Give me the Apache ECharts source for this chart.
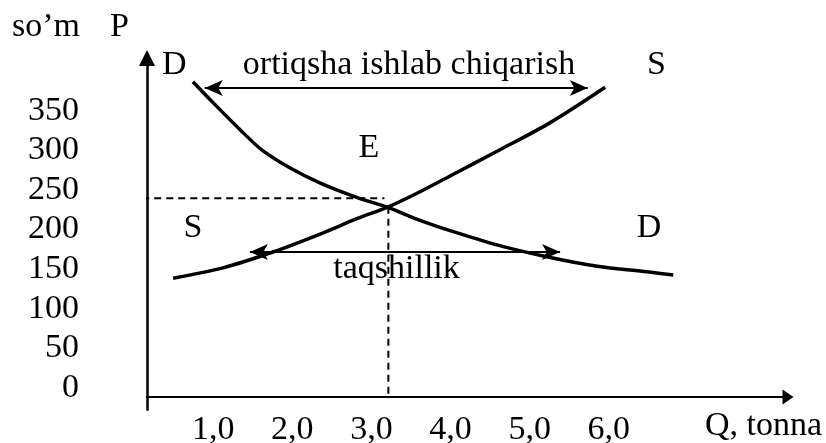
<!DOCTYPE html>
<html><head><meta charset="utf-8">
<script src="https://cdn.jsdelivr.net/npm/echarts@6/dist/echarts.min.js"></script>
<style>html,body{margin:0;padding:0;background:#fff}#c{width:826px;height:443px}</style>
</head><body><div id="c"></div>
<script>
// ---- data (Q in tonnes, P in so'm) ----
const qTicks = [1, 2, 3, 4, 5, 6];
const pTicks = [0, 50, 100, 150, 200, 250, 300, 350];
const demand = [[0.58,398],[0.86,369],[1.18,337],[1.45,312],[1.81,289],[2.19,270],[2.65,252],[3.05,239],[3.45,223],[3.83,210],[4.42,192],[5.05,177],[5.69,165],[6.32,158],[6.65,154]];
const supply = [[0.33,150],[0.96,163],[1.59,183],[2.22,207],[2.65,225],[3.05,240],[3.45,259],[3.83,279],[4.46,312],[5.09,346],[5.79,391]];
const guideP = [[-0.06,251],[3.0,251]];
const guideQ = [[3.05,240],[3.05,0]];
const surplus = [[0.73,390],[5.57,390]];
const shortage = [[1.30,183],[5.22,183]];

const FONT = '"Liberation Serif","Times New Roman",serif';
const FS = 34;
const Y_MIN = -16, Y_MAX = 428;       // P range of the plotting area
const LABEL_SHIFT = 11.5;             // P-tick labels sit slightly above their ticks
const txt = (text, x, y, align) => ({
  type: 'text', x: x, y: y, silent: true, z: 1,
  style: { text: text, fill: '#000', font: FS + 'px ' + FONT, align: align || 'left', verticalAlign: 'middle' }
});
const arrowSeries = (name, pts) => ({
  name: name, type: 'line', silent: true, z: 4, clip: false,
  symbol: 'arrow', symbolSize: [12, 18], showAllSymbol: true,
  itemStyle: { color: '#000' },
  lineStyle: { color: '#000', width: 2 },
  data: [
    { value: pts[0], symbolRotate: 90 },
    { value: pts[1], symbolRotate: -90 }
  ]
});

const chart = echarts.init(document.getElementById('c'), null, { renderer: 'canvas' });
chart.setOption({
  animation: false,
  backgroundColor: '#fff',
  grid: { left: 147, right: 38, top: 57.9, bottom: 33.3, outerBoundsMode: 'none' },
  xAxis: {
    type: 'value', min: 0, max: 8.1,
    axisLine: { show: true, onZero: true, onZeroAxisIndex: 0, symbol: ['none', 'triangle'], symbolSize: [15, 11],
      lineStyle: { color: '#000', width: 2 } },
    axisTick: { show: false }, splitLine: { show: false },
    axisLabel: { customValues: qTicks, color: '#000', fontSize: FS, fontFamily: FONT,
      margin: 3.5, padding: [0, 26, 0, 0],
      formatter: v => v.toFixed(1).replace('.', ',') }
  },
  yAxis: [{
    type: 'value', min: Y_MIN, max: Y_MAX,
    axisLine: { show: true, onZero: true, symbol: ['none', 'triangle'], symbolSize: [16, 16],
      lineStyle: { color: '#000', width: 2.5 } },
    axisTick: { show: false }, splitLine: { show: false },
    axisLabel: { show: false }
  }, {
    type: 'value', position: 'left', offset: 0, min: Y_MIN - LABEL_SHIFT, max: Y_MAX - LABEL_SHIFT,
    axisLine: { show: false, onZero: false }, axisTick: { show: false }, splitLine: { show: false },
    axisLabel: { customValues: pTicks, color: '#000', fontSize: FS, fontFamily: FONT, margin: 68 }
  }],
  series: [
    { name: 'D', type: 'line', data: demand, smooth: 0.3, symbol: 'none', silent: true, z: 3,
      lineStyle: { color: '#000', width: 3.5 } },
    { name: 'S', type: 'line', data: supply, smooth: 0.3, symbol: 'none', silent: true, z: 3,
      lineStyle: { color: '#000', width: 3.5 } },
    { name: 'guideP', type: 'line', data: guideP, symbol: 'none', silent: true, z: 2, clip: false,
      lineStyle: { color: '#000', width: 2, type: [7, 5] } },
    { name: 'guideQ', type: 'line', data: guideQ, symbol: 'none', silent: true, z: 2,
      lineStyle: { color: '#000', width: 2, type: [7, 5] } },
    arrowSeries('surplus', surplus),
    arrowSeries('shortage', shortage)
  ],
  graphic: [
    txt('so’m', 12, 27.5),
    txt('P', 110, 27.5),
    txt('D', 162, 65.5),
    txt('ortiqsha ishlab chiqarish', 409, 65.5, 'center'),
    txt('S', 647, 65.5),
    txt('E', 369, 148.5, 'center'),
    txt('S', 193, 228.5, 'center'),
    txt('D', 649, 228.5, 'center'),
    txt('taqshillik', 396.5, 269.5, 'center'),
    txt('Q, tonna', 705, 426.5)
  ]
});
</script></body></html>
